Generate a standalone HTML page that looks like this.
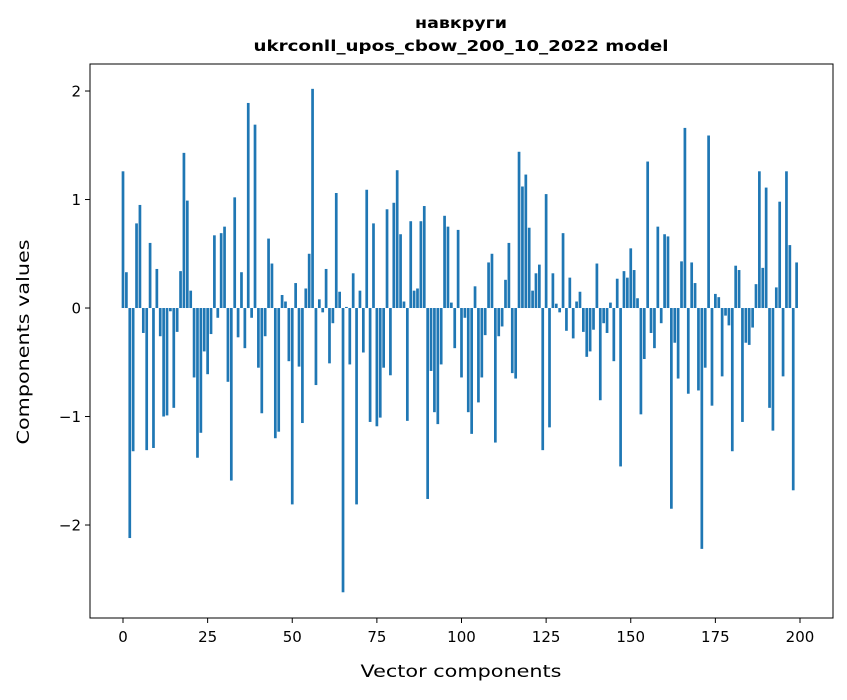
<!DOCTYPE html>
<html><head><meta charset="utf-8"><style>
body{margin:0;background:#fff;font-family:"DejaVu Sans","Liberation Sans",sans-serif}
</style></head><body>
<svg id="chart" width="847" height="696" xmlns="http://www.w3.org/2000/svg">
<rect width="847" height="696" fill="#fff"/>
<text x="461" y="28" text-anchor="middle" font-size="15" font-weight="bold" textLength="92" lengthAdjust="spacingAndGlyphs" font-family="DejaVu Sans, Liberation Sans, sans-serif">навкруги</text>
<text x="461" y="51" text-anchor="middle" font-size="15" font-weight="bold" textLength="415" lengthAdjust="spacingAndGlyphs" font-family="DejaVu Sans, Liberation Sans, sans-serif">ukrconll_upos_cbow_200_10_2022 model</text>
<g id="bars"></g>
<g id="axes"></g>
<text x="461" y="677" text-anchor="middle" font-size="17" textLength="201" lengthAdjust="spacingAndGlyphs" font-family="DejaVu Sans, Liberation Sans, sans-serif">Vector components</text>
<text transform="translate(29,342) rotate(-90)" text-anchor="middle" font-size="17" textLength="205" lengthAdjust="spacingAndGlyphs" font-family="DejaVu Sans, Liberation Sans, sans-serif">Components values</text>
</svg>
<script>
const values = [1.26,0.33,-2.12,-1.32,0.78,0.95,-0.23,-1.31,0.60,-1.29,
0.36,-0.26,-1.00,-0.99,-0.03,-0.92,-0.22,0.34,1.43,0.99,
0.16,-0.64,-1.38,-1.15,-0.40,-0.61,-0.24,0.67,-0.09,0.69,
0.75,-0.68,-1.59,1.02,-0.27,0.33,-0.37,1.89,-0.09,1.69,
-0.55,-0.97,-0.26,0.64,0.41,-1.20,-1.14,0.12,0.06,-0.49,
-1.81,0.23,-0.54,-1.06,0.18,0.50,2.02,-0.71,0.08,-0.04,
0.36,-0.51,-0.14,1.06,0.15,-2.62,0.01,-0.52,0.32,-1.81,
0.16,-0.41,1.09,-1.05,0.78,-1.09,-1.01,-0.55,0.91,-0.62,
0.97,1.27,0.68,0.06,-1.04,0.80,0.16,0.18,0.80,0.94,
-1.76,-0.58,-0.96,-1.07,-0.52,0.85,0.75,0.05,-0.37,0.72,
-0.64,-0.09,-0.96,-1.16,0.20,-0.87,-0.64,-0.25,0.42,0.50,
-1.24,-0.26,-0.17,0.26,0.60,-0.60,-0.65,1.44,1.12,1.23,
0.74,0.16,0.32,0.40,-1.31,1.05,-1.10,0.32,0.04,-0.04,
0.69,-0.21,0.28,-0.28,0.06,0.15,-0.22,-0.45,-0.40,-0.20,
0.41,-0.85,-0.14,-0.23,0.05,-0.49,0.27,-1.46,0.34,0.28,
0.55,0.35,0.09,-0.98,-0.47,1.35,-0.23,-0.37,0.75,-0.14,
0.68,0.66,-1.85,-0.32,-0.65,0.43,1.66,-0.79,0.42,0.23,
-0.76,-2.22,-0.55,1.59,-0.90,0.13,0.10,-0.63,-0.07,-0.16,
-1.32,0.39,0.35,-1.05,-0.32,-0.34,-0.18,0.22,1.26,0.37,
1.11,-0.92,-1.13,0.19,0.98,-0.63,1.26,0.58,-1.68,0.42];
const xTicks = [0,25,50,75,100,125,150,175,200];
const yTicks = [-2,-1,0,1,2];
const yTickLabels = ["\u22122","\u22121","0","1","2"];

const NS="http://www.w3.org/2000/svg";
const L=90,R=833,T=64,B=618;
const xMin=-9.75,xMax=209.75,yMin=-2.857,yMax=2.249;
const xs=v=>L+(v-xMin)/(xMax-xMin)*(R-L);
const ys=v=>B-(v-yMin)/(yMax-yMin)*(B-T);
function mk(tag,attrs){const e=document.createElementNS(NS,tag);for(const k in attrs)e.setAttribute(k,attrs[k]);return e;}
const bars=document.getElementById('bars');
values.forEach((v,i)=>{
  const x0=xs(i-0.4),x1=xs(i+0.4);
  const y0=ys(Math.max(v,0)),y1=ys(Math.min(v,0));
  const r=mk('rect',{x:x0,y:y0,width:x1-x0,height:Math.max(y1-y0,0.01),fill:'#1f77b4'});
  
  
  bars.appendChild(r);
});
const ax=document.getElementById('axes');
const frame=mk('rect',{x:L,y:T,width:R-L,height:B-T,fill:'none',stroke:'#000','stroke-width':1});


ax.appendChild(frame);
xTicks.forEach(t=>{
  const x=xs(t);
  const ln=mk('line',{x1:x,x2:x,y1:B,y2:B+5,stroke:'#000'});
  
  
  ax.appendChild(ln);
  const tx=mk('text',{x:x,y:B+24,'text-anchor':'middle','font-size':15,'font-family':'DejaVu Sans, Liberation Sans, sans-serif'});
  tx.textContent=t;
  
  
  ax.appendChild(tx);
});
yTicks.forEach((t,i)=>{
  const y=ys(t);
  const ln=mk('line',{x1:L-5,x2:L,y1:y,y2:y,stroke:'#000'});
  
  
  ax.appendChild(ln);
  const tx=mk('text',{x:L-9,y:y+5.5,'text-anchor':'end','font-size':15,'font-family':'DejaVu Sans, Liberation Sans, sans-serif'});
  tx.textContent=yTickLabels[i];
  
  
  ax.appendChild(tx);
});
</script>
</body></html>
